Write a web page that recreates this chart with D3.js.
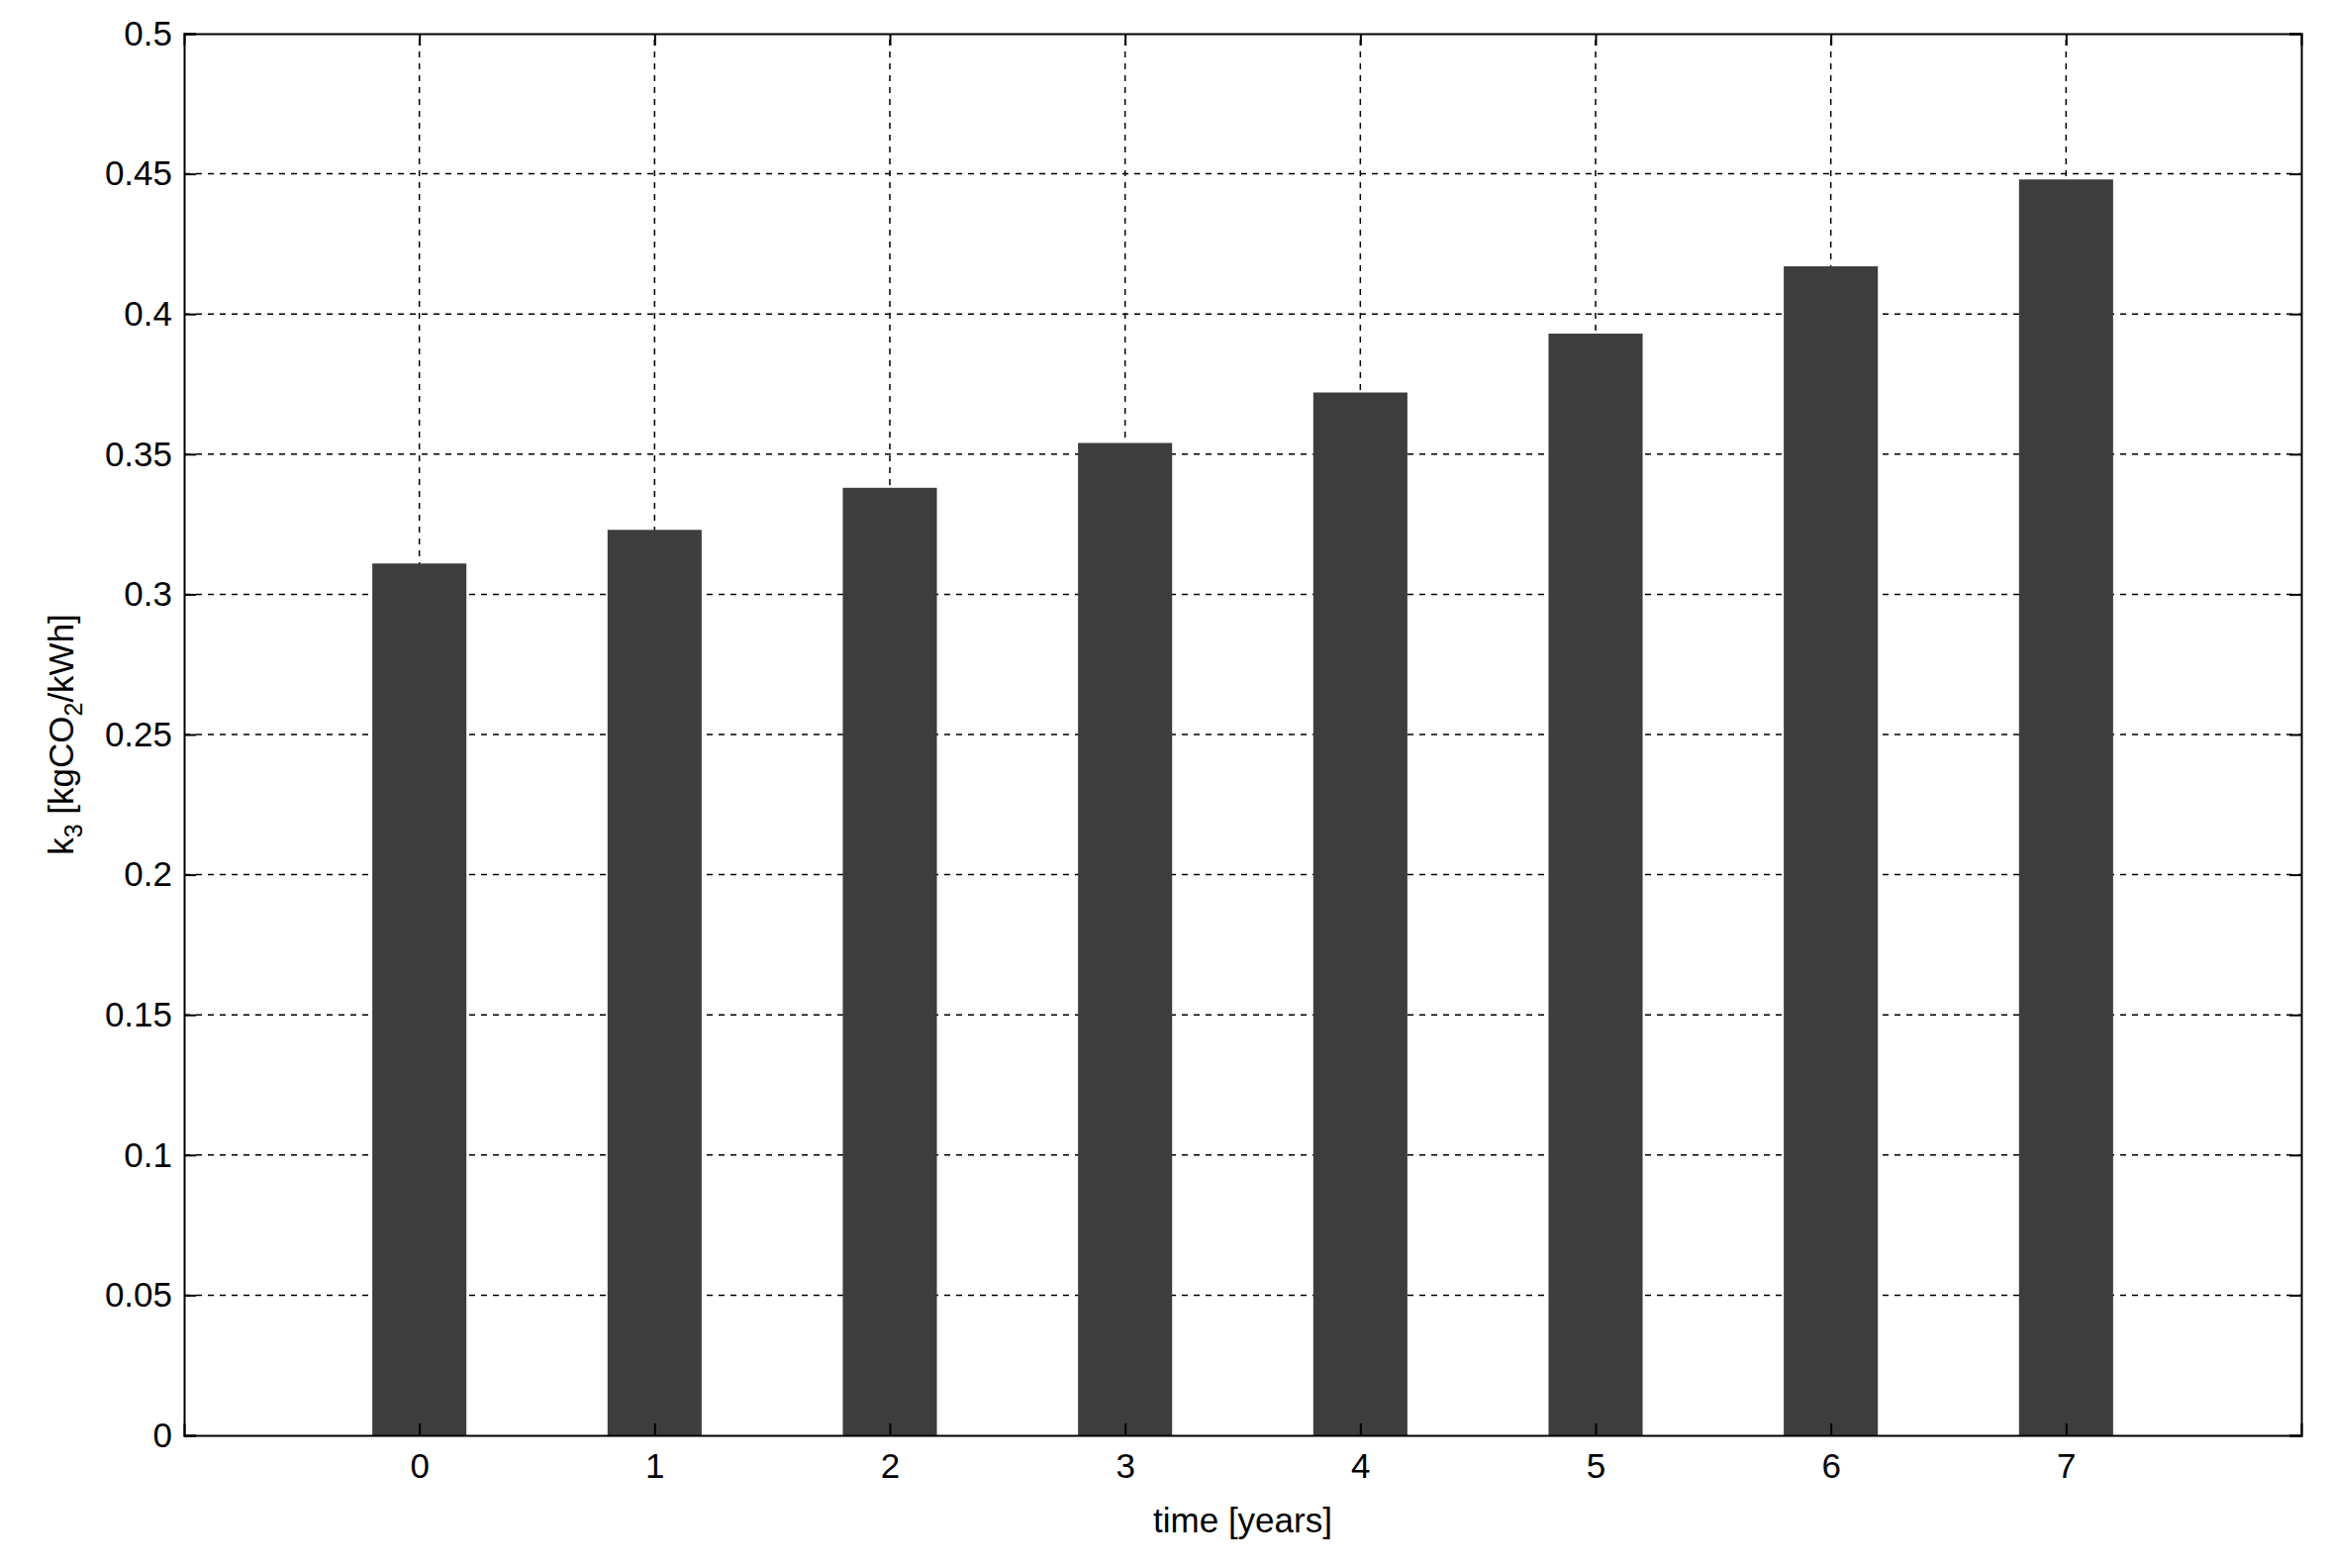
<!DOCTYPE html>
<html><head><meta charset="utf-8">
<script src="https://cdn.jsdelivr.net/npm/d3@7"></script>
<style>body{margin:0;background:#fff}</style></head>
<body><div id="chart"></div>
<script>
const years = [0, 1, 2, 3, 4, 5, 6, 7];
const k3 = [0.311, 0.323, 0.338, 0.354, 0.372, 0.393, 0.417, 0.448];
const yTicks = [0, 0.05, 0.1, 0.15, 0.2, 0.25, 0.3, 0.35, 0.4, 0.45, 0.5];

const width = 2355, height = 1584;
const margin = {top: 34, right: 30, bottom: 134, left: 186};
const font = 'Liberation Sans, Arial, sans-serif';

const svg = d3.select('#chart').append('svg')
  .attr('width', width).attr('height', height)
  .style('font-family', font);

const x = d3.scaleLinear().domain([-1, 8]).range([margin.left, width - margin.right]);
const y = d3.scaleLinear().domain([0, 0.5]).range([height - margin.bottom, margin.top]);

// grid
svg.append('g').selectAll('line').data(yTicks.slice(1, -1)).enter().append('line')
  .attr('x1', x(-1)).attr('x2', x(8)).attr('y1', d => y(d)).attr('y2', d => y(d))
  .attr('stroke', '#000').attr('stroke-width', 1.5).attr('stroke-dasharray', '6,6');
svg.append('g').selectAll('line').data(years).enter().append('line')
  .attr('x1', d => x(d)).attr('x2', d => x(d)).attr('y1', y(0)).attr('y2', y(0.5))
  .attr('stroke', '#000').attr('stroke-width', 1.5).attr('stroke-dasharray', '6,6');

// bars
const bw = x(0.4) - x(0);
svg.append('g').selectAll('rect').data(years).enter().append('rect')
  .attr('x', d => x(d) - bw / 2).attr('width', bw)
  .attr('y', (d, i) => y(k3[i])).attr('height', (d, i) => y(0) - y(k3[i]))
  .attr('fill', '#3d3d3d');

// axes
const xAxis = d3.axisBottom(x).tickValues(years).tickSize(-12).tickPadding(18).tickFormat(d3.format('d'));
const yAxis = d3.axisLeft(y).tickValues(yTicks).tickSize(-12).tickPadding(12).tickFormat(d => d);
const xTop = d3.axisTop(x).tickValues(years).tickSize(-12).tickFormat('');
const yRight = d3.axisRight(y).tickValues(yTicks).tickSize(-12).tickFormat('');

svg.append('g').attr('transform', `translate(0,${y(0)})`).call(xAxis);
svg.append('g').attr('transform', `translate(${x(-1)},0)`).call(yAxis);
svg.append('g').attr('transform', `translate(0,${y(0.5)})`).call(xTop);
svg.append('g').attr('transform', `translate(${x(8)},0)`).call(yRight);
svg.selectAll('.domain').attr('stroke', '#000').attr('stroke-width', 2);
svg.selectAll('.tick line').attr('stroke', '#000').attr('stroke-width', 2);
svg.selectAll('.tick text').attr('font-size', 35).attr('font-family', font).attr('fill', '#000');

// labels
svg.append('text').attr('x', x(3.5)).attr('y', 1548).attr('text-anchor', 'middle')
  .attr('font-size', 35).text('time [years]');

const yl = svg.append('text').attr('text-anchor', 'middle').attr('font-size', 35)
  .attr('transform', `translate(74,${y(0.25)})rotate(-90)`);
yl.append('tspan').text('k');
yl.append('tspan').attr('font-size', 25).attr('dy', 9).text('3');
yl.append('tspan').attr('dy', -9).text(' [kgCO');
yl.append('tspan').attr('font-size', 25).attr('dy', 9).text('2');
yl.append('tspan').attr('dy', -9).text('/kWh]');
</script></body></html>
